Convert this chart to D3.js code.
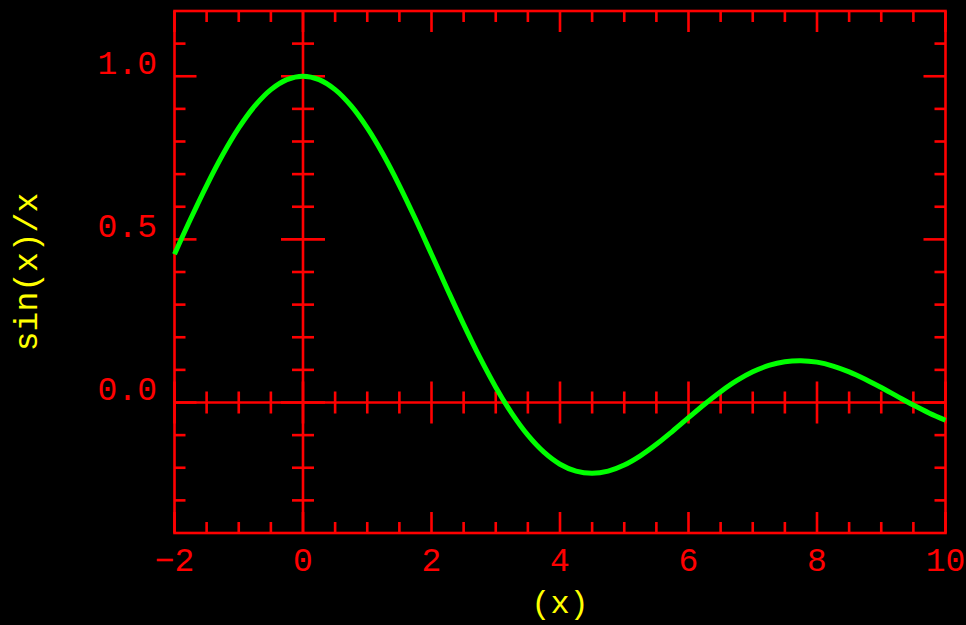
<!DOCTYPE html>
<html>
<head>
<meta charset="utf-8">
<script src="https://cdn.jsdelivr.net/npm/d3@7"></script>
<style>
  html, body { margin: 0; padding: 0; background: #000; }
  svg { display: block; }
  text { font-family: "Liberation Mono", "DejaVu Sans Mono", monospace; }
</style>
</head>
<body>
<svg id="chart" width="966" height="625"></svg>
<script>
// ---- data ----
const xValues = [-2, -1.75, -1.5, -1.25, -1, -0.75, -0.5, -0.25, 0, 0.25, 0.5, 0.75, 1, 1.25, 1.5, 1.75,
  2, 2.25, 2.5, 2.75, 3, 3.25, 3.5, 3.75, 4, 4.25, 4.5, 4.75, 5, 5.25, 5.5, 5.75,
  6, 6.25, 6.5, 6.75, 7, 7.25, 7.5, 7.75, 8, 8.25, 8.5, 8.75, 9, 9.25, 9.5, 9.75, 10];
const yValues = [0.4546, 0.5623, 0.6650, 0.7592, 0.8415, 0.9089, 0.9589, 0.9896, 1.0, 0.9896, 0.9589, 0.9089, 0.8415, 0.7592, 0.6650, 0.5623,
  0.4546, 0.3458, 0.2394, 0.1388, 0.0470, -0.0333, -0.1002, -0.1524, -0.1892, -0.2106, -0.2172, -0.2104, -0.1918, -0.1636, -0.1283, -0.0884,
  -0.0466, -0.0053, 0.0331, 0.0667, 0.0939, 0.1135, 0.1251, 0.1283, 0.1237, 0.1118, 0.0939, 0.0714, 0.0458, 0.0188, -0.0079, -0.0328, -0.0544];
const xMajorTicks = [-2, 0, 2, 4, 6, 8, 10];
const xTickLabels = ["\u22122", "0", "2", "4", "6", "8", "10"];
const xMinorTicks = [-1.5, -1, -0.5, 0.5, 1, 1.5, 2.5, 3, 3.5, 4.5, 5, 5.5, 6.5, 7, 7.5, 8.5, 9, 9.5];
const yMajorTicks = [0, 0.5, 1.0];
const yTickLabels = ["0.0", "0.5", "1.0"];
const yMinorTicks = [-0.3, -0.2, -0.1, 0.1, 0.2, 0.3, 0.4, 0.6, 0.7, 0.8, 0.9, 1.1];
const xDomain = [-2, 10];
const yDomain = [-0.4, 1.2];
const xTitle = "(x)";
const yTitle = "sin(x)/x";

// ---- layout ----
const L = 174.5, R = 945.5, T = 11, B = 533;
const axisColor = "#ff0000", titleColor = "#ffff00", lineColor = "#00ff00";
const minorLen = 11, majorLen = 21, lw = 2.6;

const svg = d3.select("#chart");
svg.append("rect").attr("width", 966).attr("height", 625).attr("fill", "#000");

const x = d3.scaleLinear().domain(xDomain).range([L, R]);
const y = d3.scaleLinear().domain(yDomain).range([B, T]);

const g = svg.append("g").attr("stroke", axisColor).attr("stroke-width", lw).attr("fill", "none");

function axisSide(gen, tx, ty, ticks, len) {
  const a = svg.append("g").attr("transform", `translate(${tx},${ty})`)
    .call(gen.tickValues(ticks).tickSize(len).tickFormat("").offset(0));
  a.select(".domain").remove();
  a.selectAll("line").attr("stroke", axisColor).attr("stroke-width", lw);
}
// bottom & top (ticks inward)
axisSide(d3.axisBottom(x), 0, B, xMinorTicks, -minorLen);
axisSide(d3.axisBottom(x), 0, B, xMajorTicks, -majorLen);
axisSide(d3.axisTop(x), 0, T, xMinorTicks, -minorLen);
axisSide(d3.axisTop(x), 0, T, xMajorTicks, -majorLen);
// left & right (ticks inward)
axisSide(d3.axisLeft(y), L, 0, yMinorTicks, -minorLen);
axisSide(d3.axisLeft(y), L, 0, yMajorTicks, -majorLen - 1);
axisSide(d3.axisRight(y), R, 0, yMinorTicks, -minorLen);
axisSide(d3.axisRight(y), R, 0, yMajorTicks, -majorLen - 1);

// zero axes with crossing ticks
g.append("line").attr("x1", L).attr("x2", R).attr("y1", y(0)).attr("y2", y(0));
g.append("line").attr("x1", x(0)).attr("x2", x(0)).attr("y1", T).attr("y2", B);
xMinorTicks.forEach(v => g.append("line").attr("x1", x(v)).attr("x2", x(v)).attr("y1", y(0) - minorLen).attr("y2", y(0) + minorLen));
xMajorTicks.forEach(v => g.append("line").attr("x1", x(v)).attr("x2", x(v)).attr("y1", y(0) - majorLen).attr("y2", y(0) + majorLen));
yMinorTicks.forEach(v => g.append("line").attr("y1", y(v)).attr("y2", y(v)).attr("x1", x(0) - minorLen).attr("x2", x(0) + minorLen));
yMajorTicks.forEach(v => g.append("line").attr("y1", y(v)).attr("y2", y(v)).attr("x1", x(0) - majorLen - 1).attr("x2", x(0) + majorLen + 1));

// frame
g.append("rect").attr("x", L).attr("y", T).attr("width", R - L).attr("height", B - T);

// curve
const pts = xValues.map((v, i) => [v, yValues[i]]);
svg.append("path").datum(pts)
  .attr("d", d3.line().x(d => x(d[0])).y(d => y(d[1])).curve(d3.curveCatmullRom.alpha(0.5)))
  .attr("fill", "none").attr("stroke", lineColor).attr("stroke-width", 5).attr("stroke-linejoin", "round");

// tick labels
const fs = 33;
svg.append("g").selectAll("text").data(yMajorTicks).join("text")
  .attr("x", 157).attr("y", d => y(d) - 2.5)
  .attr("text-anchor", "end").attr("fill", axisColor).attr("font-size", fs)
  .text((d, i) => yTickLabels[i]);
svg.append("g").selectAll("text").data(xMajorTicks).join("text")
  .attr("x", d => x(d)).attr("y", 571)
  .attr("text-anchor", "middle").attr("fill", axisColor).attr("font-size", fs)
  .text((d, i) => xTickLabels[i]);

// titles
svg.append("text").attr("x", (L + R) / 2).attr("y", 613)
  .attr("text-anchor", "middle").attr("fill", titleColor).attr("font-size", 32).text(xTitle);
svg.append("text").attr("transform", `translate(37,${(T + B) / 2}) rotate(-90)`)
  .attr("text-anchor", "middle").attr("fill", titleColor).attr("font-size", fs).text(yTitle);
</script>
</body>
</html>
